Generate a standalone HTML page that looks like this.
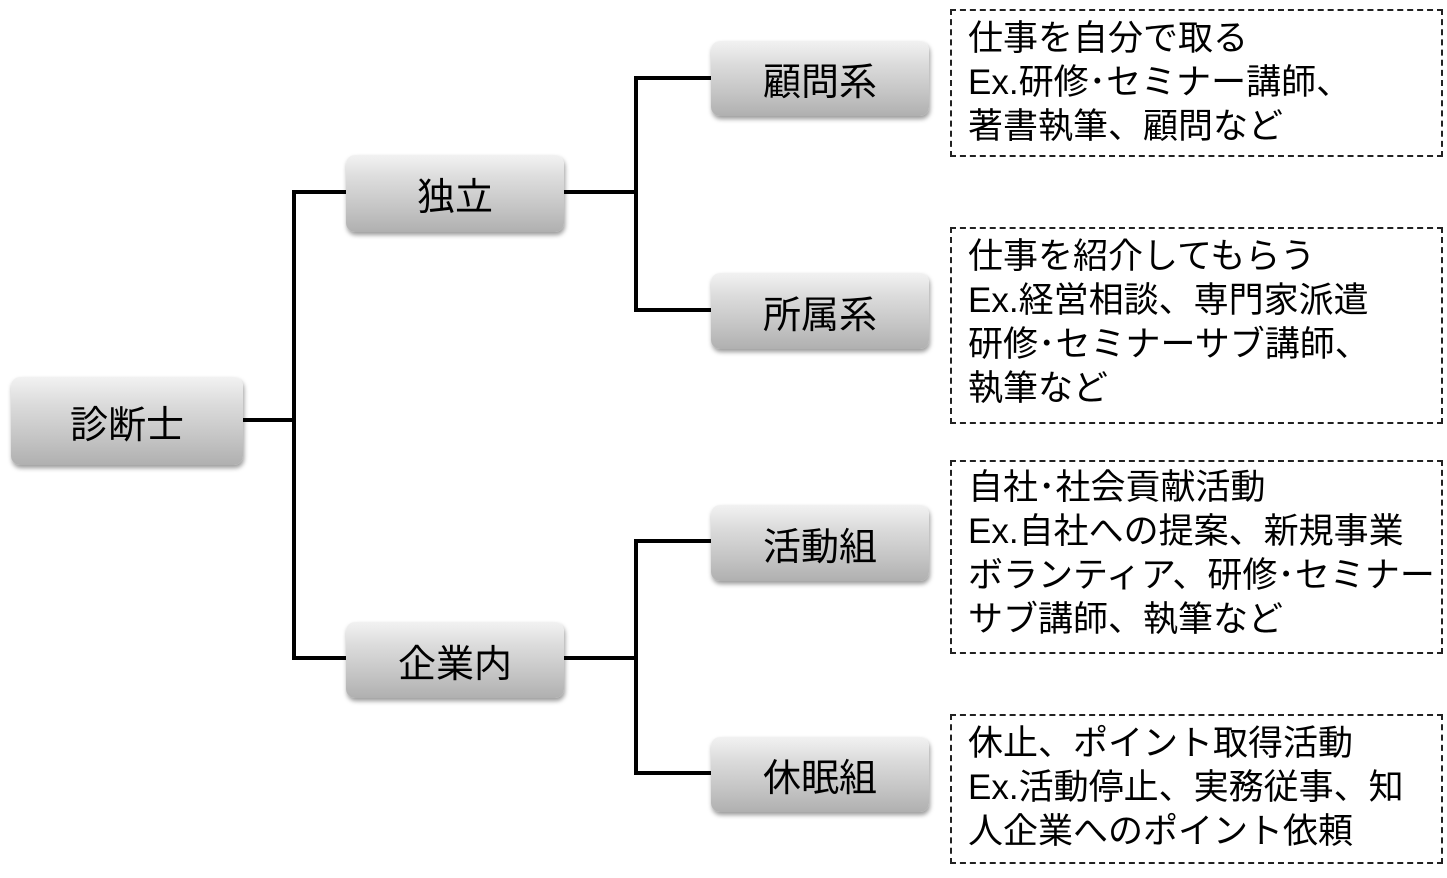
<!DOCTYPE html>
<html><head><meta charset="utf-8"><style>
body{margin:0;width:1447px;height:878px;background:#fff;position:relative;overflow:hidden;font-family:"Liberation Sans","Noto Sans CJK JP",sans-serif;}
.n{position:absolute;border-radius:9px;background:linear-gradient(#f2f2f2 0%,#dcdcdc 30%,#c4c4c4 70%,#b0b0b0 100%);box-shadow:1px 3px 5px rgba(0,0,0,0.4);display:flex;align-items:center;justify-content:center;font-size:38px;color:#000;}
.l{position:absolute;background:#000;}
.t{position:absolute;left:950px;width:493px;border:2px dashed #222;box-sizing:border-box;padding:10px 0 0 16px;font-size:35px;line-height:44px;color:#000;white-space:nowrap;}
</style></head><body>
<div class="n" style="left:11px;top:377px;width:232px;height:88px">診断士</div>
<div class="n" style="left:346px;top:155px;width:218px;height:77px">独立</div>
<div class="n" style="left:346px;top:622px;width:218px;height:76px">企業内</div>
<div class="n" style="left:711px;top:41px;width:218px;height:75px">顧問系</div>
<div class="n" style="left:711px;top:273px;width:218px;height:76px">所属系</div>
<div class="n" style="left:711px;top:505px;width:218px;height:76px">活動組</div>
<div class="n" style="left:711px;top:737px;width:218px;height:75px">休眠組</div>

<div class="l" style="left:243px;top:418px;width:53px;height:4px"></div>
<div class="l" style="left:292px;top:190px;width:4px;height:470px"></div>
<div class="l" style="left:292px;top:190px;width:54px;height:4px"></div>
<div class="l" style="left:292px;top:656px;width:54px;height:4px"></div>
<div class="l" style="left:564px;top:190px;width:74px;height:4px"></div>
<div class="l" style="left:634px;top:76px;width:4px;height:236px"></div>
<div class="l" style="left:634px;top:76px;width:77px;height:4px"></div>
<div class="l" style="left:634px;top:308px;width:77px;height:4px"></div>
<div class="l" style="left:564px;top:656px;width:74px;height:4px"></div>
<div class="l" style="left:634px;top:539px;width:4px;height:236px"></div>
<div class="l" style="left:634px;top:539px;width:77px;height:4px"></div>
<div class="l" style="left:634px;top:771px;width:77px;height:4px"></div>

<div class="t" style="top:9px;height:148px;padding-top:6px">仕事を自分で取る<br>Ex.研修･セミナー講師、<br>著書執筆、顧問など</div>
<div class="t" style="top:227px;height:197px;padding-top:6px">仕事を紹介してもらう<br>Ex.経営相談、専門家派遣<br>研修･セミナーサブ講師、<br>執筆など</div>
<div class="t" style="top:460px;height:194px;padding-top:4px">自社･社会貢献活動<br>Ex.自社への提案、新規事業<br>ボランティア、研修･セミナー<br>サブ講師、執筆など</div>
<div class="t" style="top:714px;height:150px;padding-top:6px">休止、ポイント取得活動<br>Ex.活動停止、実務従事、知<br>人企業へのポイント依頼</div>
</body></html>
